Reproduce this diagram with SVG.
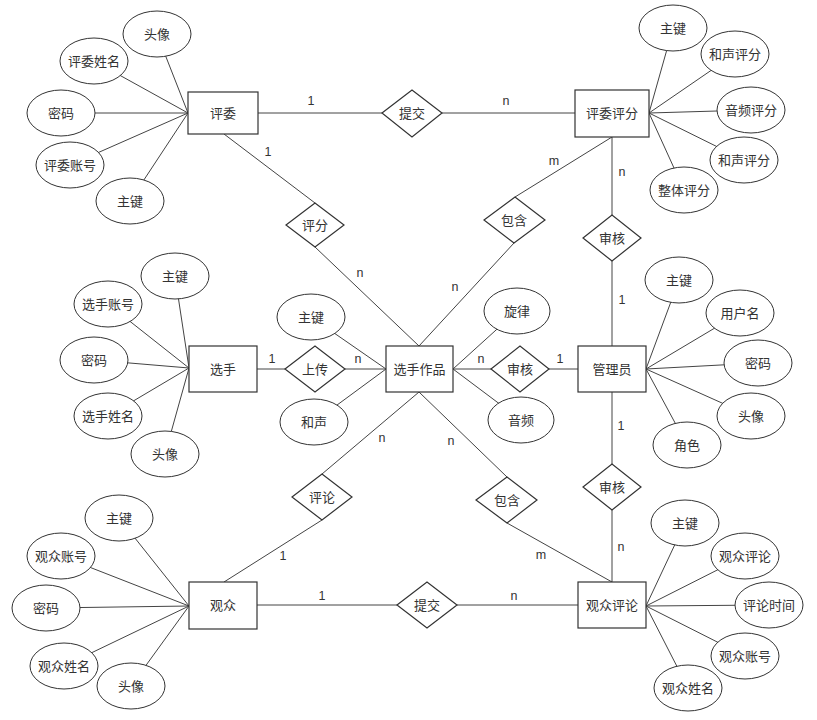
<svg xmlns="http://www.w3.org/2000/svg" width="817" height="720" viewBox="0 0 817 720">
<style>
.e{fill:#fff;stroke:#333;stroke-width:1}
.r{fill:#fff;stroke:#333;stroke-width:1.2}
.d{fill:#fff;stroke:#333;stroke-width:1.2}
.c line{stroke:#444;stroke-width:1}
text{font-family:"Liberation Sans","Noto Sans CJK SC",sans-serif;font-size:13px;fill:#333;text-anchor:middle;dominant-baseline:central}
.l{font-size:12.5px}
</style>
<rect width="817" height="720" fill="#fff"/>
<g id="connectors" class="c">
<!-- attribute lines 评委 -->
<line x1="157" y1="34" x2="188" y2="113"/>
<line x1="94" y1="61" x2="188" y2="113"/>
<line x1="61" y1="113" x2="188" y2="113"/>
<line x1="70" y1="165" x2="188" y2="113"/>
<line x1="130" y1="201" x2="188" y2="113"/>
<!-- 评委评分 -->
<line x1="673" y1="28" x2="649" y2="113"/>
<line x1="735" y1="54" x2="649" y2="113"/>
<line x1="751" y1="110" x2="649" y2="113"/>
<line x1="744" y1="160" x2="649" y2="113"/>
<line x1="684" y1="190" x2="649" y2="113"/>
<!-- 选手 -->
<line x1="175" y1="276" x2="189" y2="368"/>
<line x1="108" y1="304" x2="189" y2="368"/>
<line x1="94" y1="360" x2="189" y2="368"/>
<line x1="108" y1="416" x2="189" y2="368"/>
<line x1="165" y1="454" x2="189" y2="368"/>
<!-- 选手作品 -->
<line x1="311" y1="317" x2="386" y2="369"/>
<line x1="314" y1="422" x2="386" y2="369"/>
<line x1="517" y1="311" x2="453" y2="369"/>
<line x1="521" y1="420" x2="453" y2="369"/>
<!-- 管理员 -->
<line x1="679" y1="280" x2="646" y2="369"/>
<line x1="740" y1="313" x2="646" y2="369"/>
<line x1="758" y1="363" x2="646" y2="369"/>
<line x1="751" y1="416" x2="646" y2="369"/>
<line x1="687" y1="445" x2="646" y2="369"/>
<!-- 观众 -->
<line x1="119" y1="518" x2="189" y2="606"/>
<line x1="61" y1="556" x2="189" y2="606"/>
<line x1="46" y1="608" x2="189" y2="606"/>
<line x1="64" y1="666" x2="189" y2="606"/>
<line x1="131" y1="686" x2="189" y2="606"/>
<!-- 观众评论 -->
<line x1="685" y1="523" x2="646" y2="606"/>
<line x1="745" y1="556" x2="646" y2="606"/>
<line x1="769" y1="605" x2="646" y2="606"/>
<line x1="745" y1="656" x2="646" y2="606"/>
<line x1="688" y1="688" x2="646" y2="606"/>
<!-- relationships -->
<line x1="258" y1="113" x2="382" y2="113"/>
<line x1="442" y1="113" x2="575" y2="113"/>
<line x1="224" y1="134" x2="315" y2="203"/>
<line x1="315" y1="247" x2="419" y2="346"/>
<line x1="612" y1="137" x2="515" y2="197"/>
<line x1="514" y1="243" x2="419" y2="346"/>
<line x1="612" y1="137" x2="612" y2="215"/>
<line x1="612" y1="261" x2="612" y2="346"/>
<line x1="257" y1="369" x2="285" y2="369"/>
<line x1="345" y1="369" x2="386" y2="369"/>
<line x1="453" y1="369" x2="491" y2="369"/>
<line x1="549" y1="369" x2="578" y2="369"/>
<line x1="419" y1="392" x2="322" y2="474"/>
<line x1="322" y1="520" x2="224" y2="582"/>
<line x1="419" y1="392" x2="507" y2="477"/>
<line x1="507" y1="523" x2="612" y2="582"/>
<line x1="612" y1="392" x2="612" y2="464"/>
<line x1="612" y1="510" x2="612" y2="582"/>
<line x1="257" y1="605" x2="397" y2="605"/>
<line x1="457" y1="605" x2="578" y2="605"/>
<!-- cardinality labels -->
<text class="l" x="311" y="101">1</text>
<text class="l" x="506" y="101">n</text>
<text class="l" x="268" y="152">1</text>
<text class="l" x="360" y="273">n</text>
<text class="l" x="554" y="161">m</text>
<text class="l" x="455" y="287">n</text>
<text class="l" x="622" y="172">n</text>
<text class="l" x="622" y="300">1</text>
<text class="l" x="272" y="359">1</text>
<text class="l" x="358" y="359">n</text>
<text class="l" x="481" y="359">n</text>
<text class="l" x="560" y="359">1</text>
<text class="l" x="382" y="438">n</text>
<text class="l" x="283" y="556">1</text>
<text class="l" x="451" y="441">n</text>
<text class="l" x="541" y="555">m</text>
<text class="l" x="621" y="426">1</text>
<text class="l" x="621" y="547">n</text>
<text class="l" x="322" y="596">1</text>
<text class="l" x="514" y="596">n</text>
</g>
<!-- entities -->
<g id="e-pingwei"><rect class="r" x="188" y="92" width="70" height="42"/><text x="223" y="113">评委</text></g>
<g id="e-pingweipingfen"><rect class="r" x="575" y="90" width="74" height="47"/><text x="612" y="113.5">评委评分</text></g>
<g id="e-xuanshou"><rect class="r" x="189" y="346" width="68" height="46"/><text x="223" y="369">选手</text></g>
<g id="e-zuopin"><rect class="r" x="386" y="346" width="67" height="46"/><text x="419.5" y="369">选手作品</text></g>
<g id="e-guanliyuan"><rect class="r" x="578" y="346" width="68" height="46"/><text x="612" y="369">管理员</text></g>
<g id="e-guanzhong"><rect class="r" x="189" y="582" width="68" height="47"/><text x="223" y="605">观众</text></g>
<g id="e-pinglun"><rect class="r" x="578" y="582" width="68" height="46"/><text x="612" y="605">观众评论</text></g>
<!-- relationships -->
<g id="r-tijiao1"><polygon class="d" points="382,113 412,90 442,113 412,137"/><text x="412" y="113">提交</text></g>
<g id="r-pingfen"><polygon class="d" points="286,225 315,203 344,225 315,247"/><text x="315" y="225">评分</text></g>
<g id="r-baohan1"><polygon class="d" points="484,220 515,197 545,220 514,243"/><text x="514" y="220">包含</text></g>
<g id="r-shenhe1"><polygon class="d" points="583,238 612,215 641,238 612,261"/><text x="612" y="238">审核</text></g>
<g id="r-shangchuan"><polygon class="d" points="285,369 315,346 345,369 315,392"/><text x="315" y="369">上传</text></g>
<g id="r-shenhe2"><polygon class="d" points="491,369 520,346 549,369 520,392"/><text x="520" y="369">审核</text></g>
<g id="r-shenhe3"><polygon class="d" points="583,487 612,464 641,487 612,510"/><text x="612" y="487">审核</text></g>
<g id="r-pinglun"><polygon class="d" points="292,497 322,474 352,497 322,520"/><text x="322" y="497">评论</text></g>
<g id="r-baohan2"><polygon class="d" points="476,500 507,477 537,500 507,523"/><text x="507" y="500">包含</text></g>
<g id="r-tijiao2"><polygon class="d" points="397,605 427,582 457,605 427,628"/><text x="427" y="605">提交</text></g>
<!-- attributes 评委 -->
<g id="a-pw-touxiang"><ellipse class="e" cx="157" cy="34" rx="34" ry="23"/><text x="157" y="34">头像</text></g>
<g id="a-pw-xingming"><ellipse class="e" cx="94" cy="61" rx="34" ry="23"/><text x="94" y="61">评委姓名</text></g>
<g id="a-pw-mima"><ellipse class="e" cx="61" cy="113" rx="34" ry="23"/><text x="61" y="113">密码</text></g>
<g id="a-pw-zhanghao"><ellipse class="e" cx="70" cy="165" rx="34" ry="23"/><text x="70" y="165">评委账号</text></g>
<g id="a-pw-zhujian"><ellipse class="e" cx="130" cy="201" rx="34" ry="23"/><text x="130" y="201">主键</text></g>
<!-- attributes 评委评分 -->
<g id="a-pf-zhujian"><ellipse class="e" cx="673" cy="28" rx="34" ry="23"/><text x="673" y="28">主键</text></g>
<g id="a-pf-hesheng1"><ellipse class="e" cx="735" cy="54" rx="34" ry="23"/><text x="735" y="54">和声评分</text></g>
<g id="a-pf-yinpin"><ellipse class="e" cx="751" cy="110" rx="34" ry="23"/><text x="751" y="110">音频评分</text></g>
<g id="a-pf-hesheng2"><ellipse class="e" cx="744" cy="160" rx="34" ry="23"/><text x="744" y="160">和声评分</text></g>
<g id="a-pf-zhengti"><ellipse class="e" cx="684" cy="190" rx="34" ry="23"/><text x="684" y="190">整体评分</text></g>
<!-- attributes 选手 -->
<g id="a-xs-zhujian"><ellipse class="e" cx="175" cy="276" rx="34" ry="23"/><text x="175" y="276">主键</text></g>
<g id="a-xs-zhanghao"><ellipse class="e" cx="108" cy="304" rx="34" ry="23"/><text x="108" y="304">选手账号</text></g>
<g id="a-xs-mima"><ellipse class="e" cx="94" cy="360" rx="34" ry="23"/><text x="94" y="360">密码</text></g>
<g id="a-xs-xingming"><ellipse class="e" cx="108" cy="416" rx="34" ry="23"/><text x="108" y="416">选手姓名</text></g>
<g id="a-xs-touxiang"><ellipse class="e" cx="165" cy="454" rx="34" ry="23"/><text x="165" y="454">头像</text></g>
<!-- attributes 选手作品 -->
<g id="a-zp-zhujian"><ellipse class="e" cx="311" cy="317" rx="34" ry="23"/><text x="311" y="317">主键</text></g>
<g id="a-zp-hesheng"><ellipse class="e" cx="314" cy="422" rx="34" ry="23"/><text x="314" y="422">和声</text></g>
<g id="a-zp-xuanlv"><ellipse class="e" cx="517" cy="311" rx="33" ry="23"/><text x="517" y="311">旋律</text></g>
<g id="a-zp-yinpin"><ellipse class="e" cx="521" cy="420" rx="33" ry="23"/><text x="521" y="420">音频</text></g>
<!-- attributes 管理员 -->
<g id="a-gl-zhujian"><ellipse class="e" cx="679" cy="280" rx="34" ry="23"/><text x="679" y="280">主键</text></g>
<g id="a-gl-yonghuming"><ellipse class="e" cx="740" cy="313" rx="34" ry="23"/><text x="740" y="313">用户名</text></g>
<g id="a-gl-mima"><ellipse class="e" cx="758" cy="363" rx="34" ry="23"/><text x="758" y="363">密码</text></g>
<g id="a-gl-touxiang"><ellipse class="e" cx="751" cy="416" rx="34" ry="23"/><text x="751" y="416">头像</text></g>
<g id="a-gl-juese"><ellipse class="e" cx="687" cy="445" rx="34" ry="23"/><text x="687" y="445">角色</text></g>
<!-- attributes 观众 -->
<g id="a-gz-zhujian"><ellipse class="e" cx="119" cy="518" rx="34" ry="23"/><text x="119" y="518">主键</text></g>
<g id="a-gz-zhanghao"><ellipse class="e" cx="61" cy="556" rx="34" ry="23"/><text x="61" y="556">观众账号</text></g>
<g id="a-gz-mima"><ellipse class="e" cx="46" cy="608" rx="34" ry="23"/><text x="46" y="608">密码</text></g>
<g id="a-gz-xingming"><ellipse class="e" cx="64" cy="666" rx="34" ry="23"/><text x="64" y="666">观众姓名</text></g>
<g id="a-gz-touxiang"><ellipse class="e" cx="131" cy="686" rx="34" ry="23"/><text x="131" y="686">头像</text></g>
<!-- attributes 观众评论 -->
<g id="a-pl-zhujian"><ellipse class="e" cx="685" cy="523" rx="34" ry="23"/><text x="685" y="523">主键</text></g>
<g id="a-pl-pinglun"><ellipse class="e" cx="745" cy="556" rx="34" ry="23"/><text x="745" y="556">观众评论</text></g>
<g id="a-pl-shijian"><ellipse class="e" cx="769" cy="605" rx="34" ry="23"/><text x="769" y="605">评论时间</text></g>
<g id="a-pl-zhanghao"><ellipse class="e" cx="745" cy="656" rx="34" ry="23"/><text x="745" y="656">观众账号</text></g>
<g id="a-pl-xingming"><ellipse class="e" cx="688" cy="688" rx="34" ry="23"/><text x="688" y="688">观众姓名</text></g>
</svg>
